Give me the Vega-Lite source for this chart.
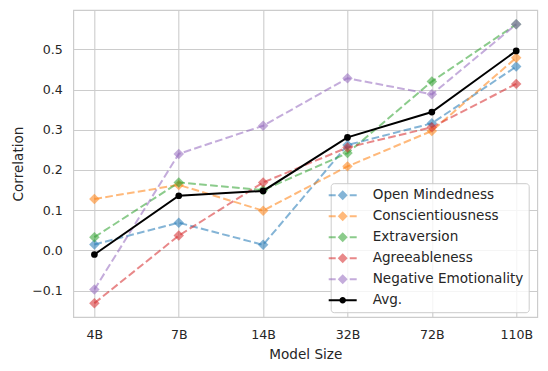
{
  "$schema": "https://vega.github.io/schema/vega-lite/v6.json",
  "width": 464,
  "height": 307,
  "autosize": {"type": "none"},
  "padding": {"left": 73.3, "top": 10, "right": 10.7, "bottom": 53.7},
  "background": "white",
  "config": {
    "font": "DejaVu Sans",
    "view": {"stroke": "#cccccc", "strokeWidth": 1.2},
    "axis": {
      "domain": false,
      "ticks": false,
      "grid": true,
      "gridColor": "#cccccc",
      "gridWidth": 1.1,
      "labelColor": "#262626",
      "titleColor": "#262626",
      "labelFontSize": 12.6,
      "titleFontSize": 13.6,
      "titleFontWeight": "normal",
      "labelFont": "DejaVu Sans",
      "titleFont": "DejaVu Sans"
    },
    "legend": {
      "labelFont": "DejaVu Sans",
      "labelFontSize": 13.6,
      "labelColor": "#262626",
      "fillColor": "rgba(255,255,255,0.8)",
      "strokeColor": "#cccccc",
      "cornerRadius": 3,
      "padding": 5,
      "rowPadding": 7,
      "labelOffset": 23,
      "symbolSize": 196,
      "symbolStrokeWidth": 0
    }
  },
  "data": {
    "values": [
      {"size": "4B", "trait": "Open Mindedness", "value": 0.015},
      {"size": "7B", "trait": "Open Mindedness", "value": 0.069},
      {"size": "14B", "trait": "Open Mindedness", "value": 0.014},
      {"size": "32B", "trait": "Open Mindedness", "value": 0.262},
      {"size": "72B", "trait": "Open Mindedness", "value": 0.316},
      {"size": "110B", "trait": "Open Mindedness", "value": 0.457},
      {"size": "4B", "trait": "Conscientiousness", "value": 0.128},
      {"size": "7B", "trait": "Conscientiousness", "value": 0.163},
      {"size": "14B", "trait": "Conscientiousness", "value": 0.099},
      {"size": "32B", "trait": "Conscientiousness", "value": 0.209},
      {"size": "72B", "trait": "Conscientiousness", "value": 0.297},
      {"size": "110B", "trait": "Conscientiousness", "value": 0.479},
      {"size": "4B", "trait": "Extraversion", "value": 0.033},
      {"size": "7B", "trait": "Extraversion", "value": 0.169},
      {"size": "14B", "trait": "Extraversion", "value": 0.15},
      {"size": "32B", "trait": "Extraversion", "value": 0.242},
      {"size": "72B", "trait": "Extraversion", "value": 0.42},
      {"size": "110B", "trait": "Extraversion", "value": 0.562},
      {"size": "4B", "trait": "Agreeableness", "value": -0.131},
      {"size": "7B", "trait": "Agreeableness", "value": 0.037},
      {"size": "14B", "trait": "Agreeableness", "value": 0.169},
      {"size": "32B", "trait": "Agreeableness", "value": 0.256},
      {"size": "72B", "trait": "Agreeableness", "value": 0.306},
      {"size": "110B", "trait": "Agreeableness", "value": 0.414},
      {"size": "4B", "trait": "Negative Emotionality", "value": -0.097},
      {"size": "7B", "trait": "Negative Emotionality", "value": 0.24},
      {"size": "14B", "trait": "Negative Emotionality", "value": 0.31},
      {"size": "32B", "trait": "Negative Emotionality", "value": 0.428},
      {"size": "72B", "trait": "Negative Emotionality", "value": 0.388},
      {"size": "110B", "trait": "Negative Emotionality", "value": 0.562},
      {"size": "4B", "trait": "Avg.", "value": -0.01},
      {"size": "7B", "trait": "Avg.", "value": 0.136},
      {"size": "14B", "trait": "Avg.", "value": 0.148},
      {"size": "32B", "trait": "Avg.", "value": 0.281},
      {"size": "72B", "trait": "Avg.", "value": 0.344},
      {"size": "110B", "trait": "Avg.", "value": 0.496}
    ]
  },
  "encoding": {
    "x": {
      "field": "size",
      "type": "ordinal",
      "sort": ["4B", "7B", "14B", "32B", "72B", "110B"],
      "scale": {"type": "point", "padding": 0.25},
      "axis": {"title": "Model Size", "labelAngle": 0, "labelPadding": 12, "titlePadding": 6}
    },
    "y": {
      "field": "value",
      "type": "quantitative",
      "scale": {"domain": [-0.1653, 0.5976], "zero": false, "nice": false},
      "axis": {"title": "Correlation", "values": [-0.1, 0, 0.1, 0.2, 0.3, 0.4, 0.5], "format": ".1f", "labelPadding": 11, "titlePadding": 6}
    },
    "color": {
      "field": "trait",
      "type": "nominal",
      "scale": {
        "domain": ["Open Mindedness", "Conscientiousness", "Extraversion", "Agreeableness", "Negative Emotionality", "Avg."],
        "range": ["#1f77b4", "#ff7f0e", "#2ca02c", "#d62728", "#9467bd", "#000000"]
      },
      "legend": {
        "title": null,
        "orient": "none",
        "legendX": 257.4,
        "legendY": 173.2
      }
    },
    "opacity": {
      "field": "trait",
      "type": "nominal",
      "scale": {
        "type": "ordinal",
        "domain": ["Open Mindedness", "Conscientiousness", "Extraversion", "Agreeableness", "Negative Emotionality", "Avg."],
        "range": [0.55, 0.55, 0.55, 0.55, 0.55, 1]
      },
      "legend": {
        "title": null,
        "orient": "none",
        "legendX": 257.4,
        "legendY": 173.2
      }
    }
  },
  "layer": [
    {
      "transform": [{"filter": "datum.trait !== 'Avg.'"}],
      "mark": {"type": "line", "strokeDash": [7.7, 3.3], "strokeWidth": 2}
    },
    {
      "transform": [{"filter": "datum.trait !== 'Avg.'"}],
      "mark": {"type": "point", "shape": "diamond", "filled": true, "size": 110}
    },
    {
      "transform": [{"filter": "datum.trait === 'Avg.'"}],
      "mark": {"type": "line", "strokeWidth": 2}
    },
    {
      "transform": [{"filter": "datum.trait === 'Avg.'"}],
      "mark": {"type": "point", "shape": "circle", "filled": true, "size": 45}
    },
    {
      "transform": [{"filter": "false"}],
      "mark": {"type": "point", "filled": true},
      "encoding": {
        "shape": {
          "field": "trait",
          "type": "nominal",
          "scale": {
            "domain": ["Open Mindedness", "Conscientiousness", "Extraversion", "Agreeableness", "Negative Emotionality", "Avg."],
            "range": [
              "M-2,-0.15H-1V0.15H-2ZM1,-0.15H2V0.15H1ZM0,-0.71L0.71,0L0,0.71L-0.71,0Z",
              "M-2,-0.15H-1V0.15H-2ZM1,-0.15H2V0.15H1ZM0,-0.71L0.71,0L0,0.71L-0.71,0Z",
              "M-2,-0.15H-1V0.15H-2ZM1,-0.15H2V0.15H1ZM0,-0.71L0.71,0L0,0.71L-0.71,0Z",
              "M-2,-0.15H-1V0.15H-2ZM1,-0.15H2V0.15H1ZM0,-0.71L0.71,0L0,0.71L-0.71,0Z",
              "M-2,-0.15H-1V0.15H-2ZM1,-0.15H2V0.15H1ZM0,-0.71L0.71,0L0,0.71L-0.71,0Z",
              "M-2,-0.15H2V0.15H-2ZM0.47,0A0.47,0.47,0,1,1,-0.47,0A0.47,0.47,0,1,1,0.47,0Z"
            ]
          },
          "legend": {
            "title": null,
            "orient": "none",
            "legendX": 257.4,
            "legendY": 173.2
          }
        }
      }
    }
  ]
}
